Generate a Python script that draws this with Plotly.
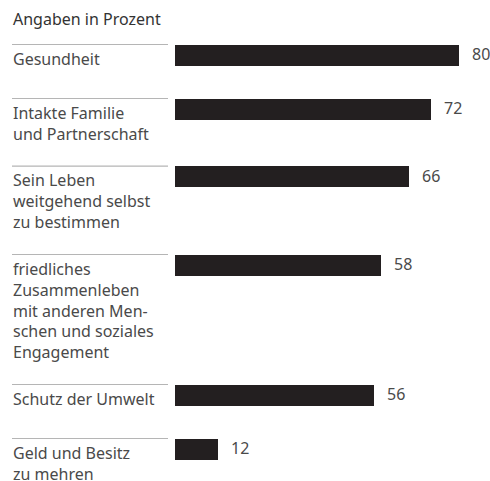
import plotly.graph_objects as go

title = "Angaben in Prozent"
labels = [
    "Gesundheit",
    "Intakte Familie<br>und Partnerschaft",
    "Sein Leben<br>weitgehend selbst<br>zu bestimmen",
    "friedliches<br>Zusammenleben<br>mit anderen Men-<br>schen und soziales<br>Engagement",
    "Schutz der Umwelt",
    "Geld und Besitz<br>zu mehren",
]
values = [80, 72, 66, 58, 56, 12]

# y axis is in screen pixels, x axis in percent
W, H = 490, 481
FONT = "Noto Sans"
BAR_H = 21
LINE_H = 20.8
x0_px, px_per_unit = 175, 3.55

tops = []
y = 44.5
for lab in labels:
    tops.append(y)
    n = lab.count("<br>") + 1
    y += max(54, 26 + LINE_H * n)
centers = [t + BAR_H / 2 for t in tops]

fig = go.Figure()
fig.add_trace(
    go.Bar(
        x=values,
        y=centers,
        orientation="h",
        width=BAR_H,
        marker=dict(color="#231f20", line=dict(width=0)),
        hoverinfo="skip",
    )
)

lx = 12 / W
annotations = [
    dict(
        text=title, xref="paper", yref="y", x=lx, y=7, xanchor="left",
        yanchor="top", showarrow=False, align="left", borderpad=0,
        font=dict(family=FONT, size=16, color="#333333"),
    )
]
shapes = []
for lab, val, top, c in zip(labels, values, tops, centers):
    shapes.append(
        dict(type="line", xref="paper", yref="y", x0=lx, x1=168 / W,
             y0=top, y1=top, line=dict(color="#b5b5b5", width=1.2))
    )
    annotations.append(
        dict(text=lab, xref="paper", yref="y", x=lx, y=top + 2,
             xanchor="left", yanchor="top", showarrow=False, align="left",
             borderpad=0, font=dict(family=FONT, size=16, color="#4a4a4a"))
    )
    annotations.append(
        dict(text=str(val), xref="x", yref="y", x=val, y=c - 1,
             xanchor="left", yanchor="middle", xshift=12, showarrow=False,
             borderpad=0, font=dict(family=FONT, size=16, color="#4a4a4a"))
    )

fig.update_layout(
    width=W,
    height=H,
    margin=dict(l=0, r=0, t=0, b=0),
    paper_bgcolor="white",
    plot_bgcolor="white",
    showlegend=False,
    bargap=0,
    xaxis=dict(
        domain=[x0_px / W, 1],
        range=[0, (W - x0_px) / px_per_unit],
        visible=False,
        fixedrange=True,
    ),
    yaxis=dict(range=[H, 0], visible=False, fixedrange=True),
    annotations=annotations,
    shapes=shapes,
)

# drop the default page margin so the figure fills the window
fig.write_html(
    "out.html",
    config={"displayModeBar": False},
    post_script="document.body.style.margin='0';document.body.style.overflow='hidden';",
)
